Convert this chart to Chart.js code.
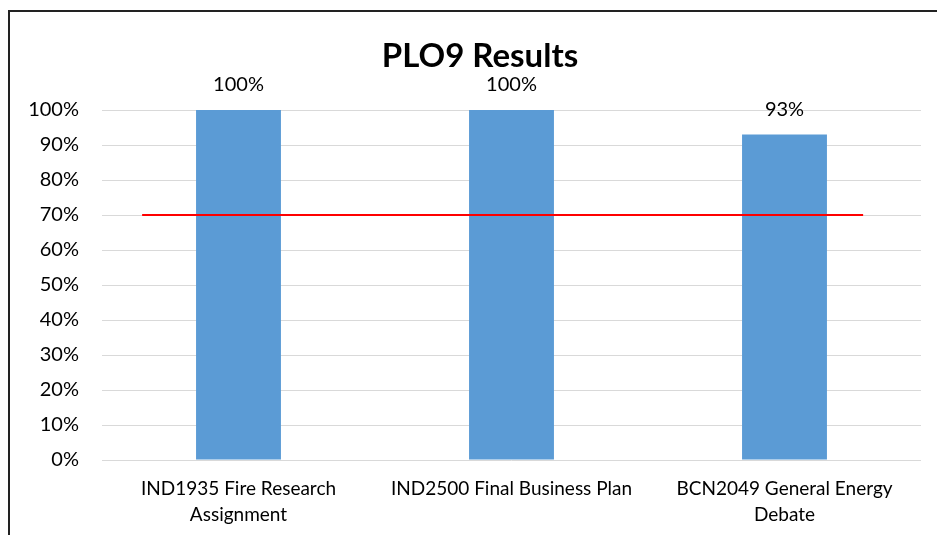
<!DOCTYPE html>
<html>
<head>
<meta charset="utf-8">
<script src="https://cdn.jsdelivr.net/npm/chart.js@4/dist/chart.umd.min.js"></script>
<style>
  html, body { margin: 0; padding: 0; background: #fff; overflow: hidden; }
  #frame { position: absolute; left: 8px; top: 10px; width: 1000px; height: 600px; border: 2px solid #222; }
  #wrap { position: absolute; left: 0; top: 0; width: 937px; height: 535px; }
</style>
</head>
<body>
<div id="frame"></div>
<div id="wrap"><canvas id="chart"></canvas></div>
<script>
const chartTitle = 'PLO9 Results';
const categories = [
  ['IND1935 Fire Research', 'Assignment'],
  'IND2500 Final Business Plan',
  ['BCN2049 General Energy', 'Debate']
];
const results = [100, 100, 93];
const targetX = [-0.353, 2.288];   // where the target line starts/ends, in category units
const targetY = [70, 70];

const FONT = 'Lato, "Open Sans", sans-serif';

// writes the value above each bar, and the title (centred on the whole frame, not the plot)
const barLabels = {
  id: 'barLabels',
  afterDatasetsDraw(chart) {
    const ctx = chart.ctx;
    const meta = chart.getDatasetMeta(0);
    ctx.save();
    ctx.font = '20px ' + FONT;
    ctx.fillStyle = '#000';
    ctx.textAlign = 'center';
    ctx.textBaseline = 'middle';
    meta.data.forEach((bar, i) => {
      ctx.fillText(results[i] + '%', bar.x, bar.y - 25);
    });
    ctx.font = 'bold 33px ' + FONT;
    ctx.fillText(chartTitle, 480, 56);
    ctx.restore();
  }
};

const ctx = document.getElementById('chart').getContext('2d');
const chart = new Chart(ctx, {
  type: 'bar',
  data: {
    labels: categories,
    datasets: [
      {
        data: results,
        backgroundColor: '#5b9bd5',
        grouped: false,
        barPercentage: 0.311,
        categoryPercentage: 1,
        order: 1
      },
      {
        type: 'line',
        data: targetX.map((x, i) => ({ x: x, y: targetY[i] })),
        xAxisID: 'x2',
        borderColor: '#ff0000',
        borderWidth: 2,
        pointRadius: 0,
        fill: false,
        order: 0
      }
    ]
  },
  options: {
    responsive: true,
    maintainAspectRatio: false,
    animation: false,
    layout: { padding: { left: 0, right: 16, top: 110, bottom: 0 } },
    plugins: {
      legend: { display: false },
      tooltip: { enabled: false },
      title: { display: false }
    },
    scales: {
      x: {
        grid: { display: false },
        border: { display: false },
        ticks: {
          color: '#000',
          font: { family: FONT, size: 19, lineHeight: 1.37 },
          padding: 8,
          maxRotation: 0,
          autoSkip: false
        },
        afterFit(scale) { scale.height = 75; }
      },
      x2: {
        type: 'linear',
        display: false,
        offset: false,
        min: -0.5,
        max: 2.5
      },
      y: {
        min: 0,
        max: 100,
        ticks: {
          stepSize: 10,
          color: '#000',
          font: { family: FONT, size: 20 },
          padding: 23,
          callback: v => v + '%'
        },
        grid: { color: '#d9d9d9', lineWidth: 1, drawTicks: false },
        border: { display: false },
        afterFit(scale) { scale.width = 102; }
      }
    }
  },
  plugins: [barLabels]
});
</script>
</body>
</html>
